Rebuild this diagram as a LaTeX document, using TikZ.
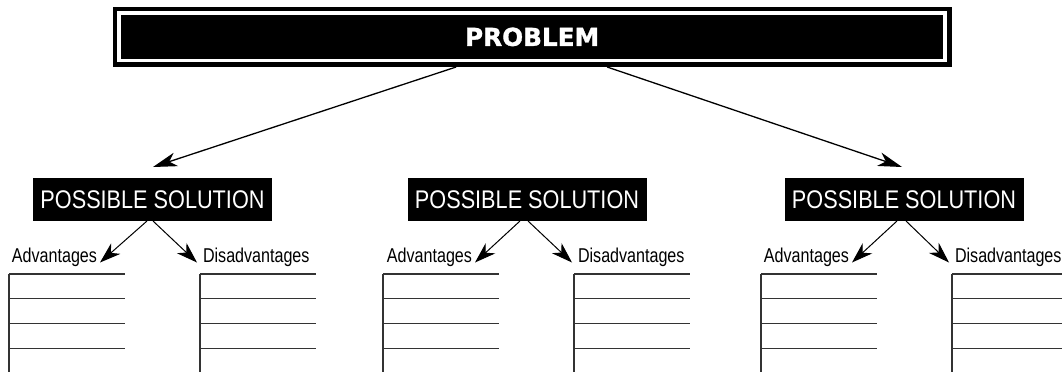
\documentclass[tikz,border=0pt]{standalone}
\usepackage{fontspec}
\usetikzlibrary{arrows.meta}
\newfontfamily\heavyfont[FakeBold=1.2]{DejaVu Sans}
\newfontfamily\solfont[FakeStretch=0.85]{Liberation Sans}
\newfontfamily\labfont[FakeStretch=0.805]{Liberation Sans}
\tikzset{
  probbox/.style={fill=black, draw=black, double=white, double distance=3.7pt,
    line width=4.7pt, minimum width=825.8pt, minimum height=47.2pt,
    inner sep=0pt, outer sep=0pt, text=white,
    font=\heavyfont\bfseries\fontsize{24.7}{26}\selectfont},
  solbox/.style={fill=black, text=white, minimum width=239pt, minimum height=43pt,
    inner sep=0pt, outer sep=0pt, font=\solfont\fontsize{25.5}{27}\selectfont},
  lab/.style={inner sep=0pt, outer sep=0pt, font=\labfont\fontsize{20}{22}\selectfont},
  bigarrow/.style={line width=1.3pt, -{Stealth[length=24pt,width=14pt,inset=7pt]}},
  smallarrow/.style={line width=1pt, -{Stealth[length=21pt,width=14pt,inset=6.5pt]}},
  rule/.style={draw=black!80, line width=1.1pt}
}
\begin{document}
\begin{tikzpicture}[x=1pt,y=-1pt]
\useasboundingbox (0,0) rectangle (1062,372);
\node[probbox] (prob) at (532.1,36.9) {PROBLEM};
\node[solbox] (sol1) at (152.5,199.5) {POSSIBLE SOLUTION};
\node[solbox] (sol2) at (527,199.5) {POSSIBLE SOLUTION};
\node[solbox] (sol3) at (904,199.5) {POSSIBLE SOLUTION};
\draw[bigarrow] ([xshift=-76pt,yshift=-6.5pt]prob.south) -- ([xshift=0.5pt,yshift=11pt]sol1.north);
\draw[bigarrow] ([xshift=75pt,yshift=-6.5pt]prob.south) -- ([xshift=-2pt,yshift=11pt]sol3.north);
% labels
\node[lab, anchor=base east] (adv1) at (97,262.5) {Advantages};
\node[lab, anchor=base west] (dis1) at (203,262.5) {Disadvantages};
\node[lab, anchor=base east] (adv2) at (472,262.5) {Advantages};
\node[lab, anchor=base west] (dis2) at (578,262.5) {Disadvantages};
\node[lab, anchor=base east] (adv3) at (849,262.5) {Advantages};
\node[lab, anchor=base west] (dis3) at (955,262.5) {Disadvantages};
\foreach \i/\dl/\dr in {1/-5.5/0.5, 2/-7/1, 3/-7/2}{
  \draw[smallarrow] ([xshift=\dl pt]sol\i.south) -- ([xshift=3pt]adv\i.base east);
  \draw[smallarrow] ([xshift=\dr pt]sol\i.south) -- ([xshift=-6pt]dis\i.base west);
}
% ruled lists
\foreach \x/\w in {9/116, 200/116, 383/116, 574/116, 761/116, 952/112}{
  \draw[rule] (\x,274) -- (\x,372);
  \foreach \y in {274,298.7,323.5,348.7}{
    \draw[rule] (\x,\y) -- (\x+\w,\y);
  }
}
\end{tikzpicture}
\end{document}
